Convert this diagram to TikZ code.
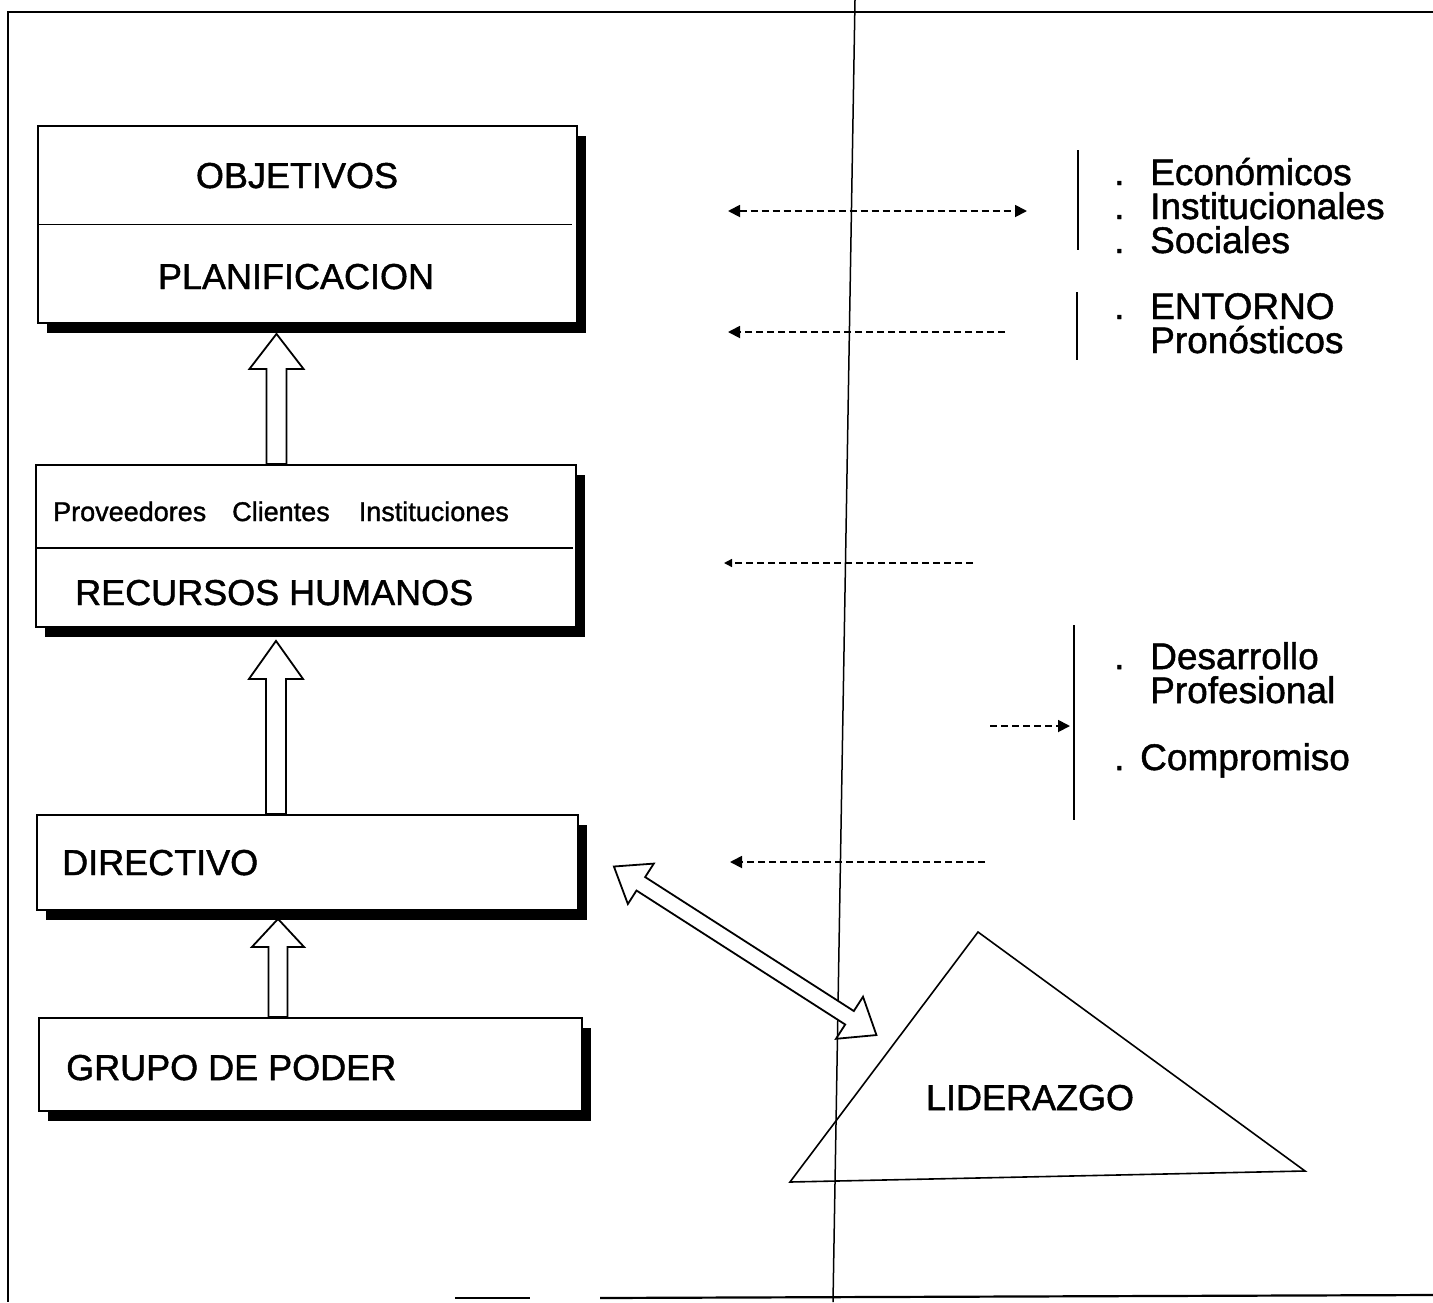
\documentclass[tikz,border=0pt]{standalone}
\usepackage{fontspec}
\setmainfont{Liberation Sans}[BoldFont={Liberation Sans}, BoldFeatures={FakeBold=1.3}]
\usetikzlibrary{calc,arrows.meta,shadows}
\begin{document}
\begin{tikzpicture}[x=1pt,y=-1pt,
  box/.style={draw, line width=1.8pt, fill=white, inner sep=0pt,
    drop shadow={shadow xshift=9pt, shadow yshift=-10pt, opacity=1, fill=black}},
  big/.style={font=\fontsize{36}{36}\selectfont\bfseries, inner sep=0pt},
  smalltxt/.style={font=\fontsize{27}{27}\selectfont\bfseries, inner sep=0pt},
  side/.style={font=\fontsize{37}{34}\selectfont\bfseries, inner sep=0pt, align=left, anchor=base west},
  dline/.style={line width=1.8pt, dash pattern=on 7pt off 4pt},
  hollow/.style={draw, line width=1.8pt, fill=white, line join=miter},
  brk/.style={line width=1.8pt},
  frameline/.style={line width=2.2pt},
  headbig/.style={-{Triangle[length=12pt,width=12pt]}},
]
\useasboundingbox (0,0) rectangle (1433,1302);

% frame lines
\draw[frameline] (7,12) -- (1433,12);
\draw[frameline] (8,12) -- (8,1302);
\draw[line width=1.5pt] (855,0) -- (833,1302);
\draw[frameline] (455,1298) -- (530,1298);
\draw[frameline] (600,1298) -- (1433,1295);

% boxes
\node[box, minimum width=539pt, minimum height=197pt] (b1) at (307.5,224.5) {};
\draw[line width=1.6pt] (b1.west) -- ($(b1.east)+(-6,0)$);
\node[big, anchor=base] (obj) at (297,188) {OBJETIVOS};
\node[big, anchor=base] (plan) at (296,289) {PLANIFICACION};

\node[box, minimum width=540pt, minimum height=162pt] (b2) at (306,546) {};
\draw[line width=1.6pt] ($(b2.west)+(0,2)$) -- ($(b2.east)+(-4,2)$);
\node[smalltxt, anchor=base west] (prov) at (53,521) {Proveedores\hspace{26pt}Clientes\hspace{29pt}Instituciones};
\node[big, anchor=base west] (rrhh) at (75,605) {RECURSOS HUMANOS};

\node[box, minimum width=541pt, minimum height=95pt] (b3) at (307.5,862.5) {};
\node[big, anchor=base west] (dir) at (62,875) {DIRECTIVO};

\node[box, minimum width=543pt, minimum height=93pt] (b4) at (310.5,1064.5) {};
\node[big, anchor=base west] (grp) at (66,1080) {GRUPO DE PODER};

% hollow up arrows
\path ($(b1.south)+(-31,10)$) coordinate (t1);
\draw[hollow] (t1) -- ++(27,35) -- ++(-17,0) -- ($(t1 |- b2.north)+(10,0)$)
  -- ($(t1 |- b2.north)+(-10,0)$) -- ($(t1)+(-10,35)$) -- ++(-17,0) -- cycle;
\path ($(b2.south)+(-30,13)$) coordinate (t2);
\draw[hollow] (t2) -- ++(27,38) -- ++(-17,0) -- ($(t2 |- b3.north)+(10,0)$)
  -- ($(t2 |- b3.north)+(-10,0)$) -- ($(t2)+(-10,38)$) -- ++(-17,0) -- cycle;
\path ($(b3.south)+(-29.5,8)$) coordinate (t3);
\draw[hollow] (t3) -- ++(26,28) -- ++(-16.5,0) -- ($(t3 |- b4.north)+(9.5,0)$)
  -- ($(t3 |- b4.north)+(-9.5,0)$) -- ($(t3)+(-9.5,28)$) -- ++(-16.5,0) -- cycle;

% triangle
\coordinate (tA) at (978,932);
\coordinate (tB) at (790,1182);
\coordinate (tC) at (1305,1171);
\draw[line width=1.6pt, line join=miter] (tA) -- (tB) -- (tC) -- cycle;
\node[big, anchor=base] (lid) at (1030,1110) {LIDERAZGO};

% double hollow arrow
\path ($(b3.east)+(35,4)$) coordinate (da);
\begin{scope}[shift={(da)}, rotate=-32.7]
\draw[hollow] (0,0) -- (32,24) -- (32,8) -- (280,8) -- (280,25) -- (312,0)
  -- (280,-25) -- (280,-8) -- (32,-8) -- (32,-24) -- cycle;
\end{scope}

% dashed arrows
\coordinate (d1l) at (728,211); \coordinate (d1r) at (1027,211);
\draw[dline, {Triangle[length=12pt,width=12pt]}-{Triangle[length=12pt,width=12pt]}] (d1l) -- (d1r);
\coordinate (d2a) at (1005,332); \coordinate (d2b) at (728,332);
\draw[dline, headbig] (d2a) -- (d2b);
\coordinate (d3a) at (973,563); \coordinate (d3b) at (724,563);
\draw[dline, line width=1.4pt, -{Triangle[length=8pt,width=8pt]}] (d3a) -- (d3b);
\coordinate (d4a) at (990,726); \coordinate (d4b) at (1070,726);
\draw[dline, headbig] (d4a) -- (d4b);
\coordinate (d5a) at (985,862); \coordinate (d5b) at (730,862);
\draw[dline, headbig] (d5a) -- (d5b);

% bracket lines
\draw[brk] (1078,150) -- (1078,250);
\draw[brk] (1077,292) -- (1077,360);
\draw[brk] (1074,625) -- (1074,820);

% side texts (base anchor = baseline of last line)
\node[side] (eco) at (1114,253) {\makebox[36pt][l]{.}Económicos\\\makebox[36pt][l]{.}Institucionales\\\makebox[36pt][l]{.}Sociales};
\node[side] (ent) at (1114,353) {\makebox[36pt][l]{.}ENTORNO\\\hspace*{36pt}Pronósticos};
\node[side] (des) at (1114,703) {\makebox[36pt][l]{.}Desarrollo\\\hspace*{36pt}Profesional};
\node[side] (com) at (1114,770) {\makebox[26pt][l]{.}Compromiso};
\end{tikzpicture}
\end{document}
